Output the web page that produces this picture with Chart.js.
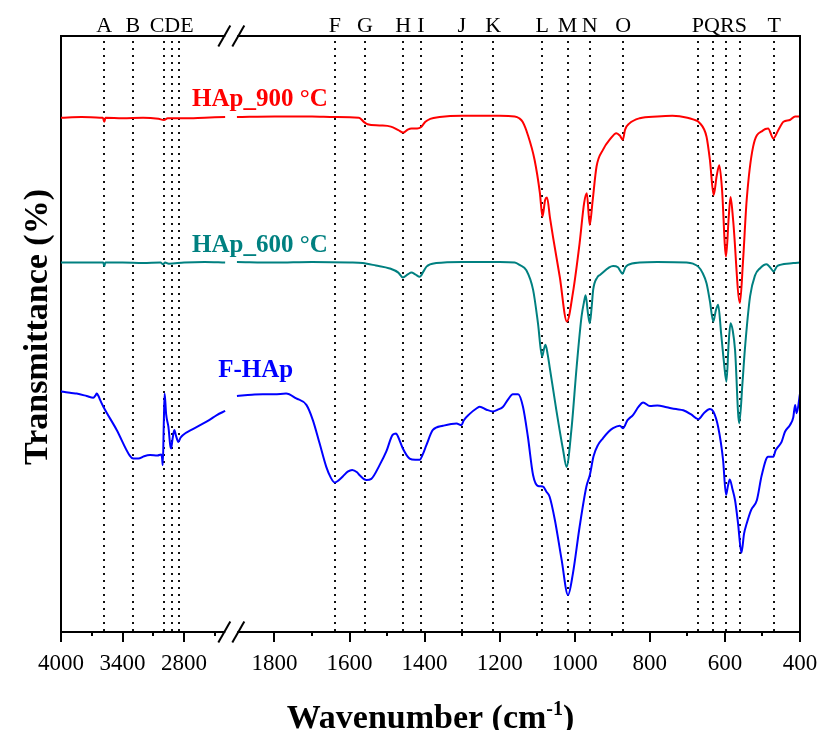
<!DOCTYPE html>
<html>
<head>
<meta charset="utf-8">
<title>FTIR</title>
<script src="https://cdn.jsdelivr.net/npm/chart.js@4.4.1/dist/chart.umd.min.js"></script>
<style>
  body { margin: 0; background: #fff; }
</style>
</head>
<body>
<canvas id="ftir" width="820" height="730"></canvas>
<script>
// wavenumbers (cm-1) and transmittance (arb. units) for each sample
const hap900Wn = [4000, 3800, 3620, 3592, 3578, 3566, 3400, 3200, 3050, 2996, 2960, 2800, 2600, 2400,
  1900, 1800, 1700, 1640, 1575, 1562, 1552, 1520, 1490, 1470, 1457, 1445, 1435, 1420, 1410, 1398, 1385, 1360,
  1300, 1200, 1160, 1148, 1139, 1125, 1107, 1093, 1086, 1079, 1074, 1066, 1058, 1040, 1021, 1005, 987, 975,
  968, 960, 953, 942, 925, 907, 889, 880, 872, 866, 855, 827, 780, 740, 700, 685, 667, 649, 640, 630, 622,
  615, 608, 597, 590, 585, 578, 560, 552, 542, 525, 498, 485, 471, 458, 444, 427, 413, 400];
const hap900T = [86.3, 86.4, 86.3, 86.3, 85.6, 86.3, 86.2, 86.3, 86.1, 85.9, 86.2, 86.2, 86.3, 86.4,
  86.4, 86.5, 86.5, 86.4, 86.3, 85.6, 85.2, 85.0, 84.8, 84.2, 83.8, 84.3, 84.5, 84.5, 84.7, 85.6, 86.1, 86.4,
  86.6, 86.6, 86.5, 86.2, 85.6, 83.4, 79.2, 73.7, 69.7, 72.5, 72.9, 69.5, 66.3, 59.6, 52.1, 56.9, 65.3, 72.0,
  73.6, 68.3, 72.0, 78.1, 80.9, 82.6, 83.7, 83.3, 82.6, 84.3, 85.3, 86.2, 86.5, 86.6, 86.3, 86.0, 85.4, 83.1,
  79.2, 73.3, 76.5, 78.3, 74.5, 63.0, 69.5, 73.0, 69.0, 55.2, 62.0, 72.5, 81.4, 84.2, 84.5, 82.8, 84.2, 85.6,
  85.9, 86.5, 86.5];

const hap600Wn = [4000, 3800, 3600, 3588, 3578, 3568, 3400, 3200, 3030, 3005, 2985, 2950, 2800, 2600, 2400,
  1900, 1800, 1700, 1600, 1565, 1530, 1493, 1470, 1458, 1445, 1435, 1425, 1413, 1403, 1395, 1369, 1300, 1200,
  1160, 1147, 1129, 1111, 1098, 1087, 1082, 1078, 1072, 1067, 1049, 1031, 1022, 1009, 995, 982, 975, 971, 965,
  960, 955, 951, 940, 933, 898, 885, 880, 873, 865, 858, 827, 780, 702, 685, 671, 660, 649, 640, 631, 624, 618,
  610, 603, 596, 590, 585, 579, 573, 562, 553, 547, 533, 520, 507, 489, 480, 470, 462, 453, 418, 400];
const hap600T = [62.0, 62.0, 62.0, 62.0, 61.4, 62.0, 62.0, 61.9, 62.0, 61.7, 62.0, 61.8, 62.0, 62.1, 62.0,
  62.1, 62.0, 62.1, 62.0, 61.9, 61.5, 61.0, 60.3, 59.5, 60.0, 60.3, 60.0, 59.6, 60.5, 61.3, 61.9, 62.1, 62.1,
  62.0, 61.6, 60.7, 57.4, 51.8, 46.2, 47.5, 48.2, 46.5, 44.5, 37.2, 30.5, 27.7, 33.9, 44.5, 52.9, 55.5, 56.5, 53.5,
  51.8, 54.5, 57.4, 59.5, 59.9, 61.4, 61.2, 60.7, 60.1, 61.2, 61.6, 62.0, 62.1, 62.0, 61.8, 61.3, 60.3, 58.5, 55.5,
  52.1, 54.0, 54.9, 50.0, 45.5, 42.0, 48.5, 51.8, 50.5, 47.3, 35.0, 42.0, 47.3, 56.3, 59.8, 61.0, 61.7, 61.2,
  60.5, 61.3, 61.6, 61.9, 62.0];

const fhapWn = [4000, 3978, 3900, 3847, 3750, 3685, 3660, 3652, 3635, 3620, 3587, 3457, 3330, 3295, 3246, 3190,
  3132, 3060, 3025, 3015, 3008, 2998, 2990, 2975, 2953, 2935, 2927, 2912, 2895, 2880, 2856, 2835, 2807, 2720,
  2644, 2560, 2481, 2400,
  1900, 1860, 1831, 1800, 1769, 1742, 1715, 1698, 1680, 1662, 1650, 1640, 1630, 1618, 1605, 1593, 1580, 1573,
  1555, 1542, 1520, 1502, 1485, 1476, 1471, 1458, 1440, 1425, 1413, 1405, 1395, 1378, 1351, 1315, 1302, 1296,
  1280, 1262, 1253, 1235, 1218, 1205, 1191, 1178, 1165, 1151, 1138, 1125, 1111, 1098, 1085, 1075, 1067, 1053,
  1035, 1018, 1005, 987, 969, 960, 950, 938, 925, 910, 898, 880, 871, 860, 845, 830, 818, 800, 780, 755, 730,
  711, 690, 671, 655, 640, 631, 618, 605, 597, 592, 587, 580, 573, 565, 556, 549, 542, 530, 515, 502, 485, 471,
  465, 458, 449, 440, 427, 418, 413, 409, 400];
const fhapT = [40.4, 40.3, 40.1, 40.0, 39.6, 39.3, 39.8, 40.0, 39.6, 39.0, 37.8, 33.9, 29.6, 29.1, 29.1, 29.5,
  29.7, 29.6, 29.8, 29.2, 28.0, 35.0, 40.0, 36.5, 34.4, 31.3, 30.8, 32.5, 33.9, 33.0, 31.9, 32.6, 33.1, 34.0,
  34.7, 35.5, 36.4, 37.1,
  39.6, 39.8, 39.9, 39.9, 40.0, 39.2, 38.1, 35.6, 31.7, 27.7, 25.9, 25.1, 25.4, 26.1, 26.9, 27.2, 26.8, 26.3,
  25.5, 25.7, 28.0, 30.3, 33.1, 33.3, 32.8, 30.8, 29.1, 28.9, 28.9, 29.8, 31.4, 33.9, 34.6, 35.0, 34.7, 35.5,
  36.6, 37.5, 37.8, 37.3, 37.0, 37.3, 37.8, 39.0, 39.9, 39.9, 37.8, 32.8, 26.3, 24.5, 24.4, 23.5, 22.7, 18.8,
  12.1, 6.2, 9.8, 17.7, 24.4, 26.3, 29.5, 31.4, 32.5, 33.6, 34.2, 34.6, 34.2, 35.5, 36.4, 37.8, 38.5, 37.9, 38.0,
  37.7, 37.4, 37.2, 36.5, 35.7, 36.8, 37.4, 37.0, 34.4, 28.9, 23.0, 24.5, 25.6, 24.0, 22.1, 18.2, 13.3, 16.5,
  18.2, 20.5, 22.1, 26.3, 29.4, 29.4, 30.5, 31.1, 31.9, 33.6, 34.7, 36.0, 38.1, 36.7, 40.0];

// assigned band positions
const bandLetters = ['A', 'B', 'C', 'D', 'E', 'F', 'G', 'H', 'I', 'J', 'K', 'L', 'M', 'N', 'O', 'P', 'Q', 'R', 'S', 'T'];
const bandWn = [3578, 3300, 2996, 2921, 2847, 1639, 1559, 1457, 1410, 1301, 1217, 1087, 1019, 960, 871, 671, 631, 597, 560, 469];

const majorTicks = [4000, 3400, 2800, 1800, 1600, 1400, 1200, 1000, 800, 600, 400];
const minorTicks = [3700, 3100, 2500, 1700, 1500, 1300, 1100, 900, 700, 500];

// broken axis: 4000-2340 squeezed, then 1915-400 at full scale
const LEFT_HI = 4000, LEFT_LO = 2340, RIGHT_HI = 1915, RIGHT_LO = 400;
const LEFT_SQUEEZE = 0.2733;

function toAxis(w) {
  if (w >= LEFT_LO) return (LEFT_HI - w) * LEFT_SQUEEZE;
  return (LEFT_HI - LEFT_LO) * LEFT_SQUEEZE + (RIGHT_HI - w);
}
const BREAK_AT = toAxis(LEFT_LO);
const AXIS_END = toAxis(RIGHT_LO);

function points(wn, t) {
  const out = [];
  for (let i = 0; i < wn.length; i++) {
    if (i > 0 && wn[i - 1] >= LEFT_LO && wn[i] < LEFT_LO) out.push({ x: BREAK_AT, y: null });
    out.push({ x: toAxis(wn[i]), y: t[i] });
  }
  return out;
}

const SERIF = '"Liberation Serif", "Times New Roman", serif';

const curveLabels = [
  { text: 'HAp_900 °C', color: '#ff0000', wn: 2723, t: 88.2 },
  { text: 'HAp_600 °C', color: '#008080', wn: 2723, t: 63.8 },
  { text: 'F-HAp', color: '#0000ff', wn: 2467, t: 42.8 }
];

const decorations = {
  id: 'decorations',
  beforeDatasetsDraw(chart) {
    const { ctx, chartArea: a, scales: { x } } = chart;
    ctx.save();
    ctx.strokeStyle = '#111';
    ctx.lineWidth = 2;
    ctx.setLineDash([2, 5]);
    bandWn.forEach(w => {
      const px = Math.round(x.getPixelForValue(toAxis(w)));
      ctx.beginPath();
      ctx.moveTo(px, a.top + 5);
      ctx.lineTo(px, a.bottom);
      ctx.stroke();
    });
    ctx.restore();
  },
  afterDatasetsDraw(chart) {
    const { ctx, scales: { x, y } } = chart;
    ctx.save();
    ctx.font = 'bold 25px ' + SERIF;
    ctx.textBaseline = 'alphabetic';
    ctx.textAlign = 'left';
    curveLabels.forEach(l => {
      ctx.fillStyle = l.color;
      ctx.fillText(l.text, x.getPixelForValue(toAxis(l.wn)), y.getPixelForValue(l.t));
    });
    ctx.restore();
  },
  afterDraw(chart) {
    const { ctx, chartArea: a, scales: { x } } = chart;
    ctx.save();
    ctx.strokeStyle = '#000';
    ctx.lineWidth = 2;

    // top and right sides of the frame
    ctx.beginPath();
    ctx.moveTo(a.left - 1, a.top);
    ctx.lineTo(a.right, a.top);
    ctx.lineTo(a.right, a.bottom);
    ctx.stroke();

    // minor ticks
    minorTicks.forEach(w => {
      const px = Math.round(x.getPixelForValue(toAxis(w)));
      ctx.beginPath();
      ctx.moveTo(px, a.bottom);
      ctx.lineTo(px, a.bottom + 4);
      ctx.stroke();
    });

    // axis break marks
    const bx = x.getPixelForValue(BREAK_AT);
    [a.top, a.bottom].forEach(yy => {
      ctx.fillStyle = '#fff';
      ctx.fillRect(bx - 6, yy - 2, 12, 4);
      [-7, 7].forEach(off => {
        ctx.beginPath();
        ctx.moveTo(bx + off - 6, yy + 10.5);
        ctx.lineTo(bx + off + 6, yy - 10.5);
        ctx.stroke();
      });
    });

    // band letters, close ones written together
    ctx.fillStyle = '#000';
    ctx.font = '22px ' + SERIF;
    ctx.textAlign = 'center';
    ctx.textBaseline = 'alphabetic';
    const groups = [];
    bandWn.forEach((w, i) => {
      const px = x.getPixelForValue(toAxis(w));
      const g = groups[groups.length - 1];
      if (g && px - g.last < 16) {
        g.text += bandLetters[i];
        g.xs.push(px);
        g.last = px;
      } else {
        groups.push({ text: bandLetters[i], xs: [px], last: px });
      }
    });
    groups.forEach(g => {
      const cx = g.xs.reduce((s, v) => s + v, 0) / g.xs.length;
      ctx.fillText(g.text, cx, a.top - 4.5);
    });

    // axis titles
    ctx.textAlign = 'left';
    const cx = (a.left + a.right) / 2;
    const main = 'Wavenumber (cm', sup = '-1', close = ')';
    ctx.font = 'bold 34px ' + SERIF;
    const wMain = ctx.measureText(main).width;
    const wClose = ctx.measureText(close).width;
    ctx.font = 'bold 20px ' + SERIF;
    const wSup = ctx.measureText(sup).width;
    let tx = cx - (wMain + wSup + wClose) / 2;
    const base = 728;
    ctx.font = 'bold 34px ' + SERIF;
    ctx.fillText(main, tx, base);
    tx += wMain;
    ctx.font = 'bold 20px ' + SERIF;
    ctx.fillText(sup, tx, base - 13);
    tx += wSup;
    ctx.font = 'bold 34px ' + SERIF;
    ctx.fillText(close, tx, base);

    ctx.translate(47, 327);
    ctx.rotate(-Math.PI / 2);
    ctx.textAlign = 'center';
    ctx.fillText('Transmittance (%)', 0, 0);
    ctx.restore();
  }
};

function curve(wn, t, color) {
  return {
    data: points(wn, t),
    borderColor: color,
    borderWidth: 2,
    pointRadius: 0,
    fill: false,
    spanGaps: false,
    cubicInterpolationMode: 'monotone'
  };
}

new Chart(document.getElementById('ftir'), {
  type: 'line',
  data: {
    datasets: [
      curve(hap900Wn, hap900T, '#ff0000'),
      curve(hap600Wn, hap600T, '#008080'),
      curve(fhapWn, fhapT, '#0000ff')
    ]
  },
  options: {
    responsive: false,
    animation: false,
    layout: { padding: { top: 36, right: 20, left: 0, bottom: 0 } },
    plugins: { legend: { display: false }, tooltip: { enabled: false } },
    scales: {
      x: {
        type: 'linear',
        min: 0,
        max: AXIS_END,
        afterBuildTicks: s => { s.ticks = majorTicks.map(w => ({ value: toAxis(w) })); },
        afterFit: s => {
          s.height = 98;
          s.paddingLeft = 0;
          s.paddingRight = 0;
        },
        ticks: {
          autoSkip: false,
          maxRotation: 0,
          padding: 8,
          color: '#000',
          font: { family: SERIF, size: 23 },
          callback: (v, i) => String(majorTicks[i])
        },
        grid: { drawOnChartArea: false, tickLength: 10, tickWidth: 2, tickColor: '#000', color: '#000', lineWidth: 2 },
        border: { color: '#000', width: 2 }
      },
      y: {
        min: 0,
        max: 100,
        afterFit: s => { s.width = 61; },
        ticks: { display: false },
        grid: { display: false, drawTicks: false },
        border: { color: '#000', width: 2 }
      }
    }
  },
  plugins: [decorations]
});
</script>
</body>
</html>
